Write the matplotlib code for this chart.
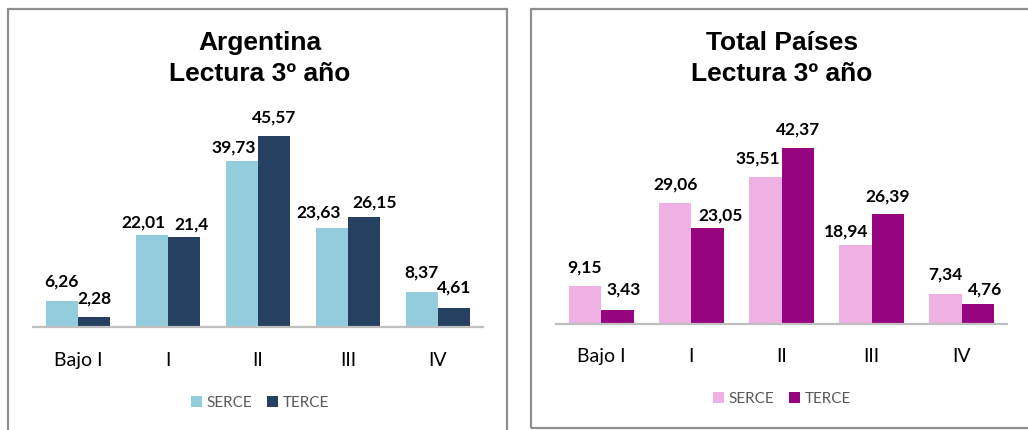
import matplotlib.pyplot as plt
from matplotlib.patches import Rectangle
import numpy as np

categorias = ['Bajo I', 'I', 'II', 'III', 'IV']
series = ['SERCE', 'TERCE']

arg_serce = [6.26, 22.01, 39.73, 23.63, 8.37]
arg_terce = [2.28, 21.4, 45.57, 26.15, 4.61]
arg_etq_serce = ['6,26', '22,01', '39,73', '23,63', '8,37']
arg_etq_terce = ['2,28', '21,4', '45,57', '26,15', '4,61']

tot_serce = [9.15, 29.06, 35.51, 18.94, 7.34]
tot_terce = [3.43, 23.05, 42.37, 26.39, 4.76]
tot_etq_serce = ['9,15', '29,06', '35,51', '18,94', '7,34']
tot_etq_terce = ['3,43', '23,05', '42,37', '26,39', '4,76']

# desplazamientos de etiquetas (px): (dx, separacion sobre la barra)
arg_mov_serce = [(0, 14), (-8, 7), (-8, 8), (-13, 10), (0, 14)]
arg_mov_terce = [(0, 14), (7, 8), (0, 14), (10, 10), (0, 15)]
tot_mov_serce = [(0, 14), (0, 14), (-7, 13), (-9, 9), (0, 14)]
tot_mov_terce = [(6, 15), (13, 8), (0, 14), (0, 13), (7, 10)]

W, H = 1028, 430
fig = plt.figure(figsize=(W / 100, H / 100), dpi=100)


def px(x0, y_top, x1, y_bot):
    # caja en pixeles (desde arriba) -> coordenadas de figura
    return [x0 / W, 1 - y_bot / H, (x1 - x0) / W, (y_bot - y_top) / H]


# marcos de los dos graficos
fig.patches.append(Rectangle((8 / W, -0.05), 499 / W, 1.05 - 9 / H, transform=fig.transFigure,
                             fill=False, edgecolor='#8f8f8f', linewidth=1.6))
fig.patches.append(Rectangle((531 / W, 1 - 428 / H), 520 / W, 419 / H, transform=fig.transFigure,
                             fill=False, edgecolor='#8f8f8f', linewidth=1.6))


def etiquetas(ax, barras, textos, movs):
    for b, t, (dx, dy) in zip(barras, textos, movs):
        ax.annotate(t, (b.get_x() + b.get_width() / 2, b.get_height()),
                    xytext=(dx * 0.72, (dy - 3) * 0.72), textcoords='offset points',
                    ha='center', va='bottom', fontsize=12.5, fontweight='bold', family='Lato')


def panel(box, ymax, serce, terce, etq_s, etq_t, mov_s, mov_t, c1, c2, titulo, tx, leg_y, pad):
    ax = fig.add_axes(px(*box))
    x = np.arange(len(categorias))
    w = 0.36
    b1 = ax.bar(x - w / 2, serce, w, color=c1, label=series[0])
    b2 = ax.bar(x + w / 2, terce, w, color=c2, label=series[1])
    etiquetas(ax, b1, etq_s, mov_s)
    etiquetas(ax, b2, etq_t, mov_t)
    ax.set_xlim(-0.5, len(categorias) - 0.5)
    ax.set_ylim(0, ymax)
    for s in ['top', 'right', 'left']:
        ax.spines[s].set_visible(False)
    ax.spines['bottom'].set_color('#bfbfbf')
    ax.spines['bottom'].set_linewidth(1.6)
    ax.set_yticks([])
    ax.set_xticks(x)
    ax.set_xticklabels(categorias, fontsize=14, family='Lato')
    ax.tick_params(axis='x', length=0, pad=pad)
    ax.patch.set_alpha(0)
    fig.text(tx / W, 1 - 43 / H, titulo[0], ha='center', va='center', fontsize=19,
             fontweight='bold', family='Liberation Sans')
    fig.text(tx / W, 1 - 74 / H, titulo[1], ha='center', va='center', fontsize=19,
             fontweight='bold', family='Liberation Sans')
    fig.legend(handles=[b1, b2], loc='center', bbox_to_anchor=(tx / W, 1 - leg_y / H), ncol=2,
               frameon=False, handlelength=0.7, handleheight=0.7, handletextpad=0.3,
               columnspacing=1.0, prop={'family': 'Lato', 'size': 11}, labelcolor='#595959')
    return ax


panel((33, 100, 483, 327), 227 / 4.19, arg_serce, arg_terce, arg_etq_serce, arg_etq_terce,
      arg_mov_serce, arg_mov_terce, '#93cddd', '#254061',
      ['Argentina', 'Lectura 3º año'], 260, 403, 18)
panel((556, 100, 1007, 324), 224 / 4.15, tot_serce, tot_terce, tot_etq_serce, tot_etq_terce,
      tot_mov_serce, tot_mov_terce, '#efb0e4', '#970480',
      ['Total Países', 'Lectura 3º año'], 782, 399, 17)

fig.savefig('out.png', dpi=100)
